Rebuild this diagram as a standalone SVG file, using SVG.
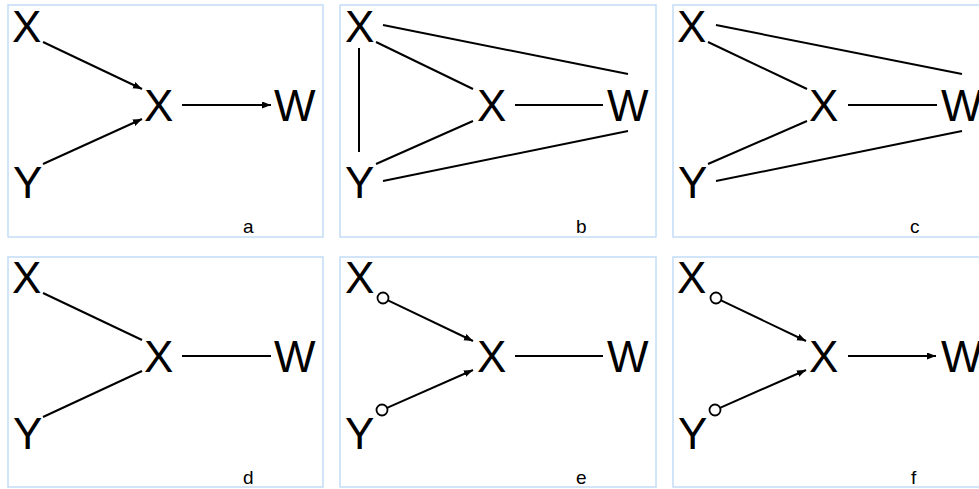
<svg xmlns="http://www.w3.org/2000/svg" width="979" height="489" viewBox="0 0 979 489">
<style>
.box{fill:#fff;stroke:#c4dcf6;stroke-width:1.5}
.n{font-family:"Liberation Sans",Arial,sans-serif;font-size:44px;fill:#000}
.lbl{font-family:"Liberation Sans",Arial,sans-serif;font-size:19px;fill:#000}
.e{stroke:#000;stroke-width:2;fill:none}
.a{stroke:#000;stroke-width:2;fill:none;marker-end:url(#ah)}
.c{stroke:#000;stroke-width:1.8;fill:#fff}
</style>
<defs>
<marker id="ah" markerUnits="userSpaceOnUse" markerWidth="10" markerHeight="8" refX="9" refY="3.5" orient="auto">
<path d="M0,0 L9,3.5 L0,7 z" fill="#000"/>
</marker>
</defs>
<rect width="979" height="489" fill="#fff"/>
<g id="frames">
<rect class="box" x="8" y="5" width="315" height="232"/>
<rect class="box" x="340" y="5" width="316" height="232"/>
<rect class="box" x="673" y="5" width="316" height="232"/>
<rect class="box" x="8" y="257" width="315" height="230"/>
<rect class="box" x="340" y="257" width="316" height="230"/>
<rect class="box" x="673" y="257" width="316" height="230"/>
</g>
<g id="connectors">
<!-- a -->
<line class="a" x1="43" y1="42" x2="142" y2="89"/>
<line class="a" x1="43" y1="164" x2="142" y2="119"/>
<line class="a" x1="182" y1="105" x2="271" y2="105"/>
<!-- b -->
<line class="e" x1="383" y1="25" x2="628" y2="74"/>
<line class="e" x1="376" y1="42" x2="473" y2="89"/>
<line class="e" x1="359" y1="48" x2="359" y2="152"/>
<line class="e" x1="376" y1="164" x2="473" y2="121"/>
<line class="e" x1="383" y1="181" x2="628" y2="131"/>
<line class="e" x1="515" y1="105" x2="603" y2="105"/>
<!-- c -->
<line class="e" x1="716" y1="25" x2="962" y2="74"/>
<line class="e" x1="708" y1="42" x2="807" y2="89"/>
<line class="e" x1="708" y1="164" x2="807" y2="121"/>
<line class="e" x1="716" y1="181" x2="962" y2="131"/>
<line class="e" x1="848" y1="105" x2="937" y2="105"/>
<!-- d -->
<line class="e" x1="43" y1="293" x2="142" y2="340"/>
<line class="e" x1="43" y1="417" x2="142" y2="371"/>
<line class="e" x1="182" y1="356" x2="271" y2="356"/>
<!-- e -->
<line class="a" x1="388" y1="300.4" x2="473" y2="341"/>
<line class="a" x1="387" y1="407.8" x2="473" y2="370"/>
<line class="e" x1="515" y1="356" x2="603" y2="356"/>
<circle class="c" cx="383" cy="298" r="5.5"/>
<circle class="c" cx="382" cy="410" r="5.5"/>
<!-- f -->
<line class="a" x1="721" y1="300.4" x2="806" y2="341"/>
<line class="a" x1="720" y1="407.8" x2="806" y2="370"/>
<line class="a" x1="848" y1="356" x2="936" y2="356"/>
<circle class="c" cx="716" cy="298" r="5.5"/>
<circle class="c" cx="715" cy="410" r="5.5"/>
</g>
<g id="panel-a">
<text class="n" x="12" y="42">X</text>
<text class="n" x="13" y="198">Y</text>
<text class="n" x="144" y="121">X</text>
<text class="n" x="274" y="121">W</text>
<text class="lbl" x="243" y="233">a</text>
</g>
<g id="panel-b">
<text class="n" x="345" y="42">X</text>
<text class="n" x="345" y="198">Y</text>
<text class="n" x="477" y="121">X</text>
<text class="n" x="607" y="121">W</text>
<text class="lbl" x="576" y="233">b</text>
</g>
<g id="panel-c">
<text class="n" x="677" y="42">X</text>
<text class="n" x="678" y="198">Y</text>
<text class="n" x="809" y="121">X</text>
<text class="n" x="941" y="121">W</text>
<text class="lbl" x="910" y="233">c</text>
</g>
<g id="panel-d">
<text class="n" x="12" y="293">X</text>
<text class="n" x="13" y="449">Y</text>
<text class="n" x="144" y="372">X</text>
<text class="n" x="274" y="372">W</text>
<text class="lbl" x="243" y="484">d</text>
</g>
<g id="panel-e">
<text class="n" x="345" y="293">X</text>
<text class="n" x="345" y="449">Y</text>
<text class="n" x="477" y="372">X</text>
<text class="n" x="607" y="372">W</text>
<text class="lbl" x="576" y="484">e</text>
</g>
<g id="panel-f">
<text class="n" x="677" y="293">X</text>
<text class="n" x="678" y="449">Y</text>
<text class="n" x="809" y="372">X</text>
<text class="n" x="941" y="372">W</text>
<text class="lbl" x="911" y="484">f</text>
</g>
</svg>
